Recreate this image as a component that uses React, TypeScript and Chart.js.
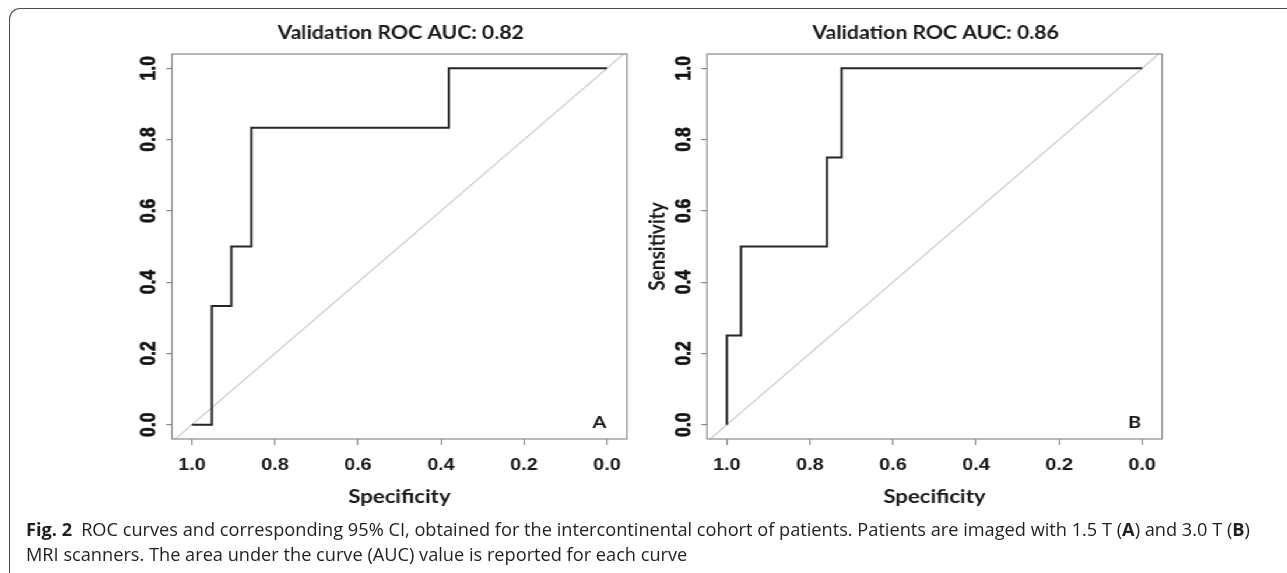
import React, { useEffect, useRef } from 'react';
import { Chart, registerables } from 'chart.js';

Chart.register(...registerables);

// ---------- data ----------
const panelTitles = ['Validation ROC AUC: 0.82', 'Validation ROC AUC: 0.86'];
const panelLetters = ['A', 'B'];
const xAxisTitle = 'Specificity';
const yAxisTitle = 'Sensitivity';

// ROC curve, panel A (1.5 T)
const specA = [1.0, 0.952, 0.905, 0.857, 0.381, 0.0];
const sensA = [0.0, 0.333, 0.5, 0.833, 1.0, 1.0];

// ROC curve, panel B (3.0 T)
const specB = [1.0, 1.0, 0.966, 0.759, 0.724, 0.0];
const sensB = [0.0, 0.25, 0.5, 0.75, 1.0, 1.0];

// chance line (sens = 1 - spec) across the plot region
const chanceSpec = [1.04, -0.04];
const chanceSens = [-0.04, 1.04];

// ---------- layout / style ----------
const STRETCH = 1.166; // the reference figure is stretched horizontally
const INK = '#1a1a1a';
const BOX = '#8a8a8a';
const TICK_FONT = { family: 'Liberation Sans', weight: 'bold' as const, size: 17 };
const LAB_FONT = { family: 'Lato', weight: 'bold' as const, size: 19 };
const LETTER_AT = { x: 0.018, y: 0.007 };

function decorPlugin(title: string, letter: string) {
  return {
    id: 'decor',
    afterDatasetsDraw(chart: any) {
      const { ctx, chartArea: ca, scales } = chart;
      ctx.save();
      ctx.strokeStyle = BOX;
      ctx.lineWidth = 1.2;
      ctx.strokeRect(ca.left, ca.top, ca.right - ca.left, ca.bottom - ca.top);
      ctx.fillStyle = INK;
      ctx.textAlign = 'center';
      ctx.textBaseline = 'middle';
      ctx.font = 'bold 18.2px Lato';
      ctx.fillText(title, (ca.left + ca.right) / 2 + 1, 33);
      ctx.font = 'bold 17px Lato';
      ctx.fillText(
        letter,
        scales.x.getPixelForValue(LETTER_AT.x),
        scales.y.getPixelForValue(LETTER_AT.y)
      );
      ctx.restore();
    },
  };
}

type PanelProps = {
  spec: number[];
  sens: number[];
  title: string;
  letter: string;
  showYTitle: boolean;
  left: number;
  width: number;
  yAxisWidth: number;
  padRight: number;
};

function RocPanel(p: PanelProps) {
  const ref = useRef<HTMLCanvasElement>(null);
  useEffect(() => {
    const canvas = ref.current!;
    const chart = new Chart(canvas, {
      type: 'scatter',
      data: {
        datasets: [
          {
            data: p.spec.map((x, i) => ({ x, y: p.sens[i] })),
            showLine: true,
            stepped: 'before',
            borderColor: '#262626',
            borderWidth: 2,
            pointRadius: 0,
            fill: false,
          } as any,
          {
            data: chanceSpec.map((x, i) => ({ x, y: chanceSens[i] })),
            showLine: true,
            borderColor: '#cdcdcd',
            borderWidth: 1.2,
            pointRadius: 0,
            fill: false,
          } as any,
        ],
      },
      options: {
        animation: false,
        responsive: false,
        events: [],
        layout: { padding: { top: 54, left: 0, right: p.padRight, bottom: 0 } },
        plugins: {
          legend: { display: false },
          tooltip: { enabled: false },
          title: { display: false },
        },
        scales: {
          x: {
            type: 'linear',
            min: -0.048,
            max: 1.048,
            reverse: true,
            afterFit: (s: any) => {
              s.height = 81;
            },
            ticks: {
              stepSize: 0.2,
              includeBounds: false,
              autoSkip: false,
              maxRotation: 0,
              minRotation: 0,
              padding: 10,
              font: TICK_FONT,
              color: INK,
              callback: (v: any) => Number(v).toFixed(1),
            },
            grid: {
              display: true,
              drawOnChartArea: false,
              drawTicks: true,
              tickLength: 6,
              color: BOX,
              lineWidth: 1.2,
            },
            border: { display: false },
            title: {
              display: true,
              text: xAxisTitle,
              font: LAB_FONT,
              color: INK,
              padding: { top: 0, bottom: 11.6 },
            },
          },
          y: {
            type: 'linear',
            min: -0.04,
            max: 1.04,
            afterFit: (s: any) => {
              s.width = p.yAxisWidth;
            },
            ticks: {
              stepSize: 0.2,
              includeBounds: false,
              autoSkip: false,
              minRotation: 90,
              maxRotation: 90,
              crossAlign: 'center',
              padding: 2,
              font: { ...TICK_FONT, size: 17.5 },
              color: '#111',
              textStrokeColor: '#111',
              textStrokeWidth: 0.6,
              callback: (v: any) => Number(v).toFixed(1),
            },
            grid: {
              display: true,
              drawOnChartArea: false,
              drawTicks: true,
              tickLength: 5,
              color: BOX,
              lineWidth: 1.2,
            },
            border: { display: false },
            title: {
              display: p.showYTitle,
              text: yAxisTitle,
              font: LAB_FONT,
              color: INK,
              padding: { top: 7.1, bottom: 0 },
            },
          },
        },
      } as any,
      plugins: [decorPlugin(p.title, p.letter)],
    });
    return () => chart.destroy();
  }, []);
  return (
    <canvas
      ref={ref}
      width={p.width}
      height={520}
      style={{ position: 'absolute', left: p.left, top: 0, width: p.width, height: 520 }}
    />
  );
}

export default function App() {
  return (
    <div
      style={{
        position: 'fixed',
        left: 0,
        top: 0,
        width: 1287,
        height: 573,
        overflow: 'hidden',
        background: '#fff',
      }}
    >
      <div
        style={{
          position: 'absolute',
          left: 9,
          top: 8,
          width: 1320,
          height: 620,
          borderTop: '1.5px solid #4a4a4a',
          borderLeft: '1.5px solid #4a4a4a',
          borderTopLeftRadius: 11,
          boxSizing: 'border-box',
        }}
      />
      <div
        style={{
          position: 'absolute',
          left: 0,
          top: 0,
          width: 1100,
          height: 520,
          transform: `scaleX(${STRETCH})`,
          transformOrigin: '0 0',
        }}
      >
        <RocPanel
          spec={specA}
          sens={sensA}
          title={panelTitles[0]}
          letter={panelLetters[0]}
          showYTitle={false}
          left={100}
          width={460}
          yAxisWidth={47.5}
          padRight={22.3}
        />
        <RocPanel
          spec={specB}
          sens={sensB}
          title={panelTitles[1]}
          letter={panelLetters[1]}
          showYTitle={true}
          left={545}
          width={480}
          yAxisWidth={61.3}
          padRight={28.4}
        />
      </div>
      <div
        style={{
          position: 'absolute',
          left: 26,
          top: 517,
          fontFamily: '"Open Sans"',
          fontSize: 18.2,
          lineHeight: '25px',
          color: '#231f20',
          whiteSpace: 'nowrap',
        }}
      >
        <b>Fig. 2</b>
        <span style={{ display: 'inline-block', width: 9 }} />
        ROC curves and corresponding 95% CI, obtained for the intercontinental cohort of patients. Patients are imaged
        with 1.5 T (<b>A</b>) and 3.0 T (<b>B</b>)
        <br />
        MRI scanners. The area under the curve (AUC) value is reported for each curve
      </div>
    </div>
  );
}
